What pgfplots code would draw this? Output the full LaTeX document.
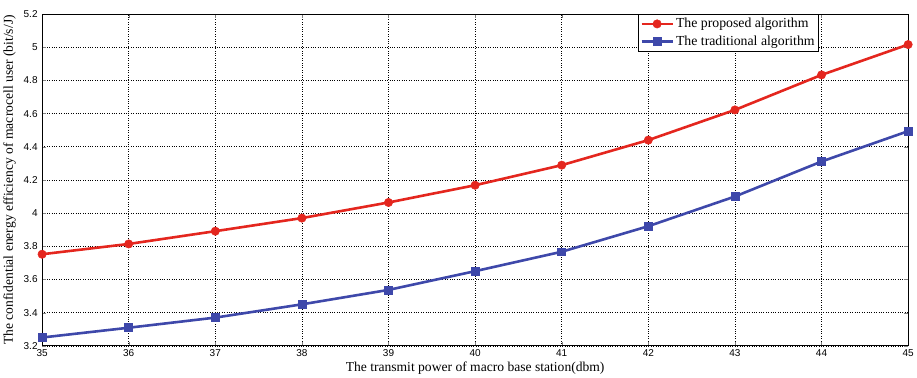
\documentclass[border=0pt]{standalone}
\usepackage{fontspec}
\setmainfont{Liberation Serif}
\newfontfamily\arial{Liberation Sans}
\usepackage{pgfplots}
\pgfplotsset{compat=1.18}
\definecolor{myred}{RGB}{228,38,30}
\definecolor{myblue}{RGB}{62,72,170}
\begin{document}
\begin{tikzpicture}
\begin{axis}[
  scale only axis,
  width=864bp, height=331bp,
  xmin=35, xmax=45, ymin=3.2, ymax=5.2,
  xtick={35,...,45},
  ytick={3.2,3.4,...,5.21},
  /pgf/number format/assume math mode=true,
  tick label style={font=\arial\fontsize{10}{11}\selectfont},
  yticklabel style={xshift=-1bp},
  xticklabel style={yshift=-0.5bp},
  tick align=inside,
  major tick length=4bp,
  grid=major,
  major grid style={black, dotted, line width=0.5pt},
  axis line style={line width=1pt},
  xlabel={The transmit power of macro base station(dbm)},
  ylabel={The confidential energy efficiency of macrocell user (bit/s/J)},
  label style={font=\fontsize{13.6}{15}\selectfont},
  xlabel style={yshift=2bp},
  ylabel style={yshift=1bp},
  legend style={at={(0.897,1)}, anchor=north east, font=\fontsize{13.8}{15}\selectfont, draw=black, line width=0.7pt, inner sep=2pt, row sep=2.5pt},
  legend cell align=left,
  legend image code/.code={\draw[mark repeat=2,mark phase=2] plot coordinates {(0cm,0cm) (0.55cm,0cm) (1.1cm,0cm)};},
  clip=false,
]
\addplot[myred, line width=2.6pt, mark=*, mark size=4.2pt, mark options={fill=myred, line width=0.5pt}] coordinates {
(35,3.752) (36,3.814) (37,3.891) (38,3.970) (39,4.064) (40,4.168) (41,4.289) (42,4.440) (43,4.622) (44,4.833) (45,5.016)
};
\addlegendentry{The proposed algorithm}
\addplot[myblue, line width=2.6pt, mark=square*, mark size=4pt, mark options={fill=myblue, line width=0.5pt}] coordinates {
(35,3.250) (36,3.309) (37,3.370) (38,3.450) (39,3.537) (40,3.650) (41,3.767) (42,3.921) (43,4.100) (44,4.311) (45,4.494)
};
\addlegendentry{The traditional algorithm}
\end{axis}
\path ([yshift=14bp]current axis.north);
\end{tikzpicture}
\end{document}
